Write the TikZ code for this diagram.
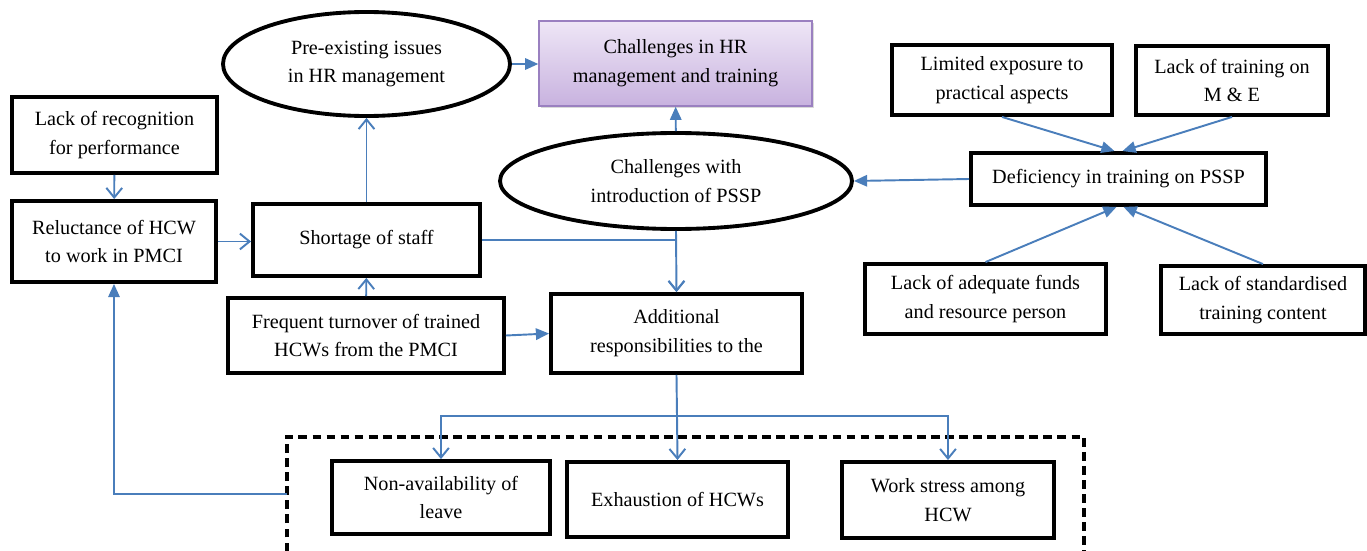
\documentclass[tikz,border=0pt]{standalone}
\usepackage{fontspec}
\setmainfont{Liberation Serif}
\usetikzlibrary{arrows.meta,shapes.geometric,shadows}
\definecolor{arrowblue}{HTML}{4A7EBB}
\definecolor{purTop}{HTML}{EEE6F6}
\definecolor{purBot}{HTML}{C8B2DF}
\definecolor{purEdge}{HTML}{9A80C0}
\tikzset{
  sz/.style 2 args={minimum width=#1*0.02cm, minimum height=#2*0.02cm},
  txt/.style={font=\fontsize{11.5}{16.4}\selectfont, align=center, inner sep=0pt},
  blk/.style={txt, draw=black, line width=2.2pt, rectangle},
  ell/.style={txt, draw=black, line width=2.2pt, ellipse},
  purbox/.style={txt, rectangle, draw=purEdge, line width=0.8pt, top color=purTop, bottom color=purBot,
    drop shadow={shadow xshift=1pt, shadow yshift=-1.2pt, opacity=0.3}},
  oarr/.style={draw=arrowblue, line width=1.1pt, -{Straight Barb[length=5.5pt,width=9pt]}},
  farr/.style={draw=arrowblue, line width=1.1pt, -{Triangle[length=7.5pt,width=6.5pt]}},
  dashbox/.style={draw=black, line width=2.2pt, dash pattern=on 5pt off 3pt},
}
\begin{document}
\begin{tikzpicture}[x=0.02cm, y=-0.02cm]
\useasboundingbox (0,0) rectangle (1367,551);
% nodes
\node[ell, sz={287}{104}] (prex) at (366.5,64) {Pre-existing issues\\in HR management};
\node[purbox, sz={273}{85}] (chall) at (675.5,63.5) {Challenges in HR\\management and training};
\node[blk, sz={205}{76}] (recog) at (114.5,135) {Lack of recognition\\for performance};
\node[blk, sz={204}{81}] (reluct) at (114,241.5) {Reluctance of HCW\\to work in PMCI};
\node[blk, sz={227}{72}] (short) at (366.5,240) {Shortage of staff};
\node[blk, sz={276}{75}] (freq) at (366,335.5) {Frequent turnover of trained\\HCWs from the PMCI};
\node[blk, sz={251}{79}] (addl) at (676.5,333.5) {Additional\\responsibilities to the};
\node[ell, sz={352}{96}] (pssp) at (676,181) {Challenges with\\introduction of PSSP};
\node[blk, sz={295}{52}] (defic) at (1118.5,179) {Deficiency in training on PSSP};
\node[blk, sz={220}{70}] (limited) at (1002,80) {Limited exposure to\\practical aspects};
\node[blk, sz={192}{69}] (lackme) at (1232,80.5) {Lack of training on\\M \& E};
\node[blk, sz={241}{70}] (funds) at (985.5,299) {Lack of adequate funds\\and resource person};
\node[blk, sz={204}{68}] (stand) at (1263,300) {Lack of standardised\\training content};
\node[sz={797}{114}, inner sep=0pt] (grp) at (685.5,494) {};
\draw[dashbox] (grp.south west) -- (grp.north west) -- (grp.north east) -- (grp.south east);
\node[blk, sz={218}{73}] (nonav) at (441,497.5) {Non-availability of\\leave};
\node[blk, sz={221}{75}] (exh) at (677.5,499.5) {Exhaustion of HCWs};
\node[blk, sz={212}{76}] (stress) at (948,500) {Work stress among\\HCW};
\coordinate (br) at (677,416);
% connectors
\draw[oarr] (recog) -- (reluct);
\draw[oarr] (reluct.east) -- (reluct.east -| short.west);
\draw[oarr] (short) -- (prex);
\draw[oarr] (freq) -- (short);
\draw[farr] (freq.east) -- (addl.west);
\draw[farr] (prex.east) -- (prex.east -| chall.west);
\draw[oarr] (short.east) -| (addl.north);
\draw[oarr] (pssp.south) -- (addl.north);
\draw[farr] (pssp) -- (chall);
\draw[farr] (defic.west) -- (pssp.east);
\draw[farr] (limited.south) -- ([xshift=-4*0.02cm]defic.north);
\draw[farr] (lackme.south) -- ([xshift=4*0.02cm]defic.north);
\draw[farr] (funds.north) -- ([xshift=-2*0.02cm]defic.south);
\draw[farr] (stand.north) -- ([xshift=5*0.02cm]defic.south);
\draw[arrowblue, line width=1.1pt] (addl.south) -- (br);
\draw[oarr] (br) -| (nonav.north);
\draw[oarr] (br) -- (exh.north);
\draw[oarr] (br) -| (stress.north);
\draw[farr] (grp.west) -| (reluct.south);
\end{tikzpicture}
\end{document}
